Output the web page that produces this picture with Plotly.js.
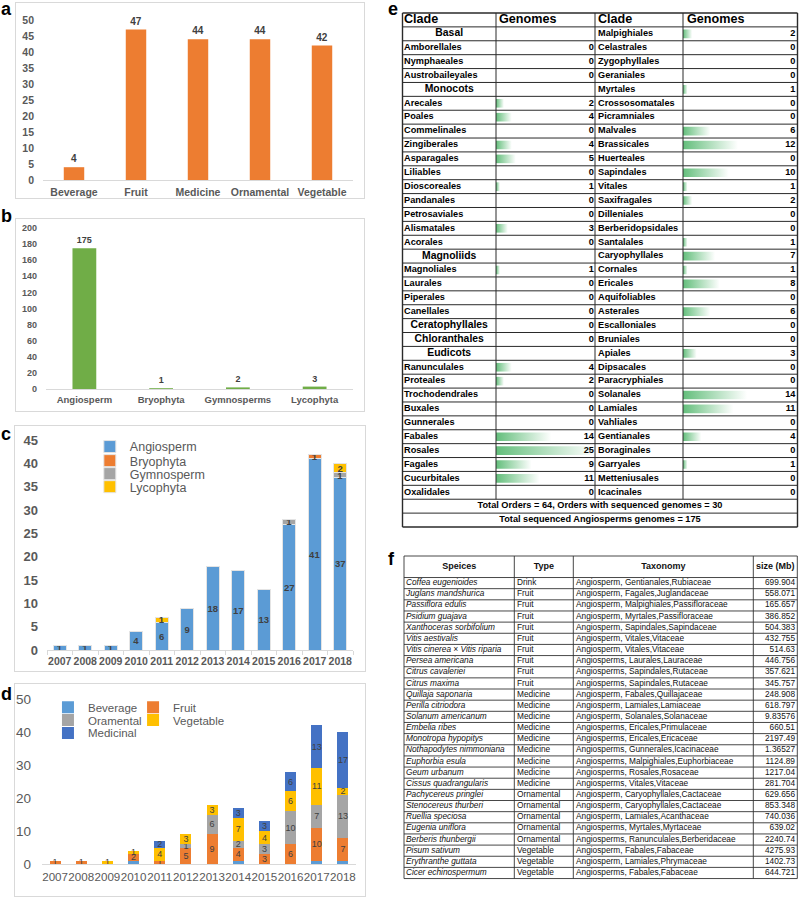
<!DOCTYPE html>
<html><head><meta charset="utf-8">
<script src="https://cdn.plot.ly/plotly-3.0.1.min.js"></script>
<style>
body{margin:0;background:#fff;width:800px;height:898px;position:relative;overflow:hidden;font-family:"Liberation Sans",Arial,sans-serif;}
.frame{position:absolute;border:1px solid #D9D9D9;box-sizing:border-box;}
.plot{position:absolute;}
.lab{position:absolute;font-weight:bold;font-size:18px;line-height:18px;color:#000;}
</style></head><body>
<div class="frame" style="left:15px;top:2px;width:350px;height:197px"></div>
<div class="frame" style="left:15px;top:218px;width:350px;height:194px"></div>
<div class="frame" style="left:14px;top:425px;width:352px;height:247px"></div>
<div class="frame" style="left:14px;top:683px;width:352px;height:214px"></div>
<div id="pa" class="plot" style="left:15px;top:2px;width:350px;height:197px"></div>
<div id="pb" class="plot" style="left:15px;top:218px;width:350px;height:194px"></div>
<div id="pc" class="plot" style="left:14px;top:395px;width:352px;height:277px"></div>
<div id="pd" class="plot" style="left:14px;top:683px;width:352px;height:214px"></div>
<div id="pe" class="plot" style="left:401px;top:12px;width:398px;height:516px"></div>
<div id="pf" class="plot" style="left:402px;top:555px;width:397px;height:325px"></div>
<div class="lab" style="left:1px;top:0px">a</div>
<div class="lab" style="left:1px;top:207px">b</div>
<div class="lab" style="left:1px;top:425px">c</div>
<div class="lab" style="left:1px;top:685px">d</div>
<div class="lab" style="left:388px;top:0px">e</div>
<div class="lab" style="left:388px;top:550px">f</div>
<script>
// ---------------- DATA ----------------
const useCats = ['Beverage','Fruit','Medicine','Ornamental','Vegetable'];
const useCounts = [4,47,44,44,42];

const groupCats = ['Angiosperm','Bryophyta','Gymnosperms','Lycophyta'];
const groupCounts = [175,1,2,3];

const years = ['2007','2008','2009','2010','2011','2012','2013','2014','2015','2016','2017','2018'];
const angiosperm = [1,1,1,4,6,9,18,17,13,27,41,37];
const bryophyta  = [0,0,0,0,0,0,0,0,0,0,1,0];
const gymnosperm = [0,0,0,0,0,0,0,0,0,1,0,1];
const lycophyta  = [0,0,0,0,1,0,0,0,0,0,0,2];

const useBeverage   = [0,0,0,1,0,0,0,1,0,0,1,1];
const useFruit      = [1,1,0,2,1,5,9,4,3,6,10,7];
const useOrnamental = [0,0,0,0,0,1,6,2,3,10,7,13];
const useVegetable  = [0,0,1,1,4,3,3,7,4,6,11,2];
const useMedicinal  = [0,0,0,0,2,0,0,3,3,6,13,17];

const cladeLeft = ['Basal','Amborellales','Nymphaeales','Austrobaileyales','Monocots','Arecales','Poales','Commelinales','Zingiberales','Asparagales','Liliables','Dioscoreales','Pandanales','Petrosaviales','Alismatales','Acorales','Magnoliids','Magnoliales','Laurales','Piperales','Canellales','Ceratophyllales','Chloranthales','Eudicots','Ranunculales','Proteales','Trochodendrales','Buxales','Gunnerales','Fabales','Rosales','Fagales','Cucurbitales','Oxalidales'];
const genomesLeft = [null,0,0,0,null,2,4,0,4,5,0,1,0,0,3,0,null,1,0,0,0,0,0,null,4,2,0,0,0,14,25,9,11,0];
const centeredLeft = ['Basal','Monocots','Magnoliids','Ceratophyllales','Chloranthales','Eudicots'];
const cladeRight = ['Malpighiales','Celastrales','Zygophyllales','Geraniales','Myrtales','Crossosomatales','Picramniales','Malvales','Brassicales','Huerteales','Sapindales','Vitales','Saxifragales','Dilleniales','Berberidopsidales','Santalales','Caryophyllales','Cornales','Ericales','Aquifoliables','Asterales','Escalloniales','Bruniales','Apiales','Dipsacales','Paracryphiales','Solanales','Lamiales','Vahliales','Gentianales','Boraginales','Garryales','Metteniusales','Icacinales'];
const genomesRight = [2,0,0,0,1,0,0,6,12,0,10,1,2,0,0,1,7,1,8,0,6,0,0,3,0,0,14,11,0,4,0,1,0,0];
const eHeader = ['Clade','Genomes','Clade','Genomes'];
const eFooter = ['Total Orders = 64, Orders with sequenced genomes = 30','Total sequenced Angiosperms genomes = 175'];

const fHeader = ['Speices','Type','Taxonomy','size (Mb)'];
const fSpecies = ['Coffea eugenioides','Juglans mandshurica','Passiflora edulis','Psidium guajava','Xanthoceras sorbifolium','Vitis aestivalis','Vitis cinerea × Vitis riparia','Persea americana','Citrus cavaleriei','Citrus maxima','Quillaja saponaria','Perilla citriodora','Solanum americanum','Embelia ribes','Monotropa hypopitys','Nothapodytes nimmoniana','Euphorbia esula','Geum urbanum','Cissus quadrangularis','Pachycereus pringlei','Stenocereus thurberi','Ruellia speciosa','Eugenia uniflora','Berberis thunbergii','Pisum sativum','Erythranthe guttata','Cicer echinospermum'];
const fType = ['Drink','Fruit','Fruit','Fruit','Fruit','Fruit','Fruit','Fruit','Fruit','Fruit','Medicine','Medicine','Medicine','Medicine','Medicine','Medicine','Medicine','Medicine','Medicine','Ornamental','Ornamental','Ornamental','Ornamental','Ornamental','Vegetable','Vegetable','Vegetable'];
const fTaxonomy = ['Angiosperm, Gentianales,Rubiaceae','Angiosperm, Fagales,Juglandaceae','Angiosperm, Malpighiales,Passifloraceae','Angiosperm, Myrtales,Passifloraceae','Angiosperm, Sapindales,Sapindaceae','Angiosperm, Vitales,Vitaceae','Angiosperm, Vitales,Vitaceae','Angiosperms, Laurales,Lauraceae','Angiosperms, Sapindales,Rutaceae','Angiosperms, Sapindales,Rutaceae','Angiosperm, Fabales,Quillajaceae','Angiosperm, Lamiales,Lamiaceae','Angiosperm, Solanales,Solanaceae','Angiosperms, Ericales,Primulaceae','Angiosperms, Ericales,Ericaceae','Angiosperms, Gunnerales,Icacinaceae','Angiosperms, Malpighiales,Euphorbiaceae','Angiosperms, Rosales,Rosaceae','Angiosperms, Vitales,Vitaceae','Angiosperm, Caryophyllales,Cactaceae','Angiosperm, Caryophyllales,Cactaceae','Angiosperm, Lamiales,Acanthaceae','Angiosperms, Myrtales,Myrtaceae','Angiosperms, Ranunculales,Berberidaceae','Angiosperm, Fabales,Fabaceae','Angiosperm, Lamiales,Phrymaceae','Angiosperms, Fabales,Fabaceae'];
const fSize = ['699.904','558.071','165.657','386.852','504.383','432.755','514.63','446.756','357.621','345.757','248.908','618.797','9.83576','660.51','2197.49','1.36527','1124.89','1217.04','281.704','629.656','853.348','740.036','639.02','2240.74','4275.93','1402.73','644.721'];

// ---------------- STYLE ----------------
const FONT = '"Liberation Sans", Arial, Helvetica, sans-serif';
const GRAY = '#595959', DARK = '#404040';
const cfg = {staticPlot:true, displayModeBar:false};
const base = {paper_bgcolor:'rgba(0,0,0,0)', plot_bgcolor:'rgba(0,0,0,0)', font:{family:FONT}};
const lbl = a => a.map(v => v ? String(v) : '');

// ---------------- PANEL A ----------------
Plotly.newPlot('pa', [{
  type:'bar', x:useCats, y:useCounts, marker:{color:'#ED7D31'},
  text:lbl(useCounts), textposition:'outside', cliponaxis:false,
  textfont:{family:FONT,size:10,color:DARK,weight:'bold'}, hoverinfo:'skip'
}], Object.assign({}, base, {
  width:350, height:197, margin:{l:28,r:12,t:18,b:19,pad:0}, bargap:0.67, showlegend:false,
  xaxis:{showline:true, linecolor:'#D9D9D9', ticks:'', ticklabelstandoff:2, tickangle:0,
         tickfont:{family:FONT,size:10.5,color:GRAY,weight:'bold'}},
  yaxis:{range:[0,50], dtick:5, showgrid:false, zeroline:false, showline:false, ticks:'',
         ticklabelstandoff:8, tickfont:{family:FONT,size:10.5,color:GRAY,weight:'bold'}}
}), cfg);

// ---------------- PANEL B ----------------
Plotly.newPlot('pb', [{
  type:'bar', x:groupCats, y:groupCounts, marker:{color:'#70AD47'},
  text:lbl(groupCounts), textposition:'outside', cliponaxis:false,
  textfont:{family:FONT,size:9,color:DARK,weight:'bold'}, hoverinfo:'skip'
}], Object.assign({}, base, {
  width:350, height:194, margin:{l:30.5,r:11.5,t:10,b:23,pad:0}, bargap:0.69, showlegend:false,
  xaxis:{showline:true, linecolor:'#D9D9D9', ticks:'', ticklabelstandoff:2, tickangle:0,
         tickfont:{family:FONT,size:9.5,color:GRAY,weight:'bold'}},
  yaxis:{range:[0,200], dtick:20, showgrid:false, zeroline:false, showline:false, ticks:'',
         ticklabelstandoff:8, tickfont:{family:FONT,size:9,color:GRAY,weight:'bold'}}
}), cfg);

// ---------------- PANEL C ----------------
const cSeries = [
  ['Angiosperm', angiosperm, '#5B9BD5', 'legend'],
  ['Bryophyta', bryophyta, '#ED7D31', 'legend2'],
  ['Gymnosperm', gymnosperm, '#A5A5A5', 'legend3'],
  ['Lycophyta', lycophyta, '#FFC000', 'legend4']
];
const cTraces = cSeries.map(s => ({
  type:'bar', name:s[0], x:years, y:s[1], legend:s[3],
  marker:{color:s[2], line:{color:'#E4E4E4', width:1}},
  text:lbl(s[1]), textposition:'inside', insidetextanchor:'middle', constraintext:'none', textangle:0,
  textfont:{family:FONT,size:9.5,color:DARK,weight:'bold'}, cliponaxis:false, hoverinfo:'skip'
}));
function leg(x, y, size){
  return {x:x, y:y, xanchor:'left', yanchor:'middle', bgcolor:'rgba(0,0,0,0)', borderwidth:0,
          font:{family:FONT,size:size,color:GRAY}, itemwidth:30};
}
Plotly.newPlot('pc', cTraces, Object.assign({}, base, {
  width:352, height:277, margin:{l:33.3,r:13.3,t:45,b:22,pad:0}, barmode:'stack', bargap:0.49,
  showlegend:true,
  legend:leg(0.14,0.967,12.5), legend2:leg(0.14,0.900,12.5), legend3:leg(0.14,0.838,12.5), legend4:leg(0.14,0.776,12.5),
  xaxis:{type:'category', showline:true, linecolor:'#D9D9D9', ticks:'outside', tickson:'boundaries',
         ticklen:4, tickcolor:'#D9D9D9', ticklabelstandoff:1, tickangle:0,
         tickfont:{family:FONT,size:10.5,color:GRAY,weight:'bold'}},
  yaxis:{range:[0,45], dtick:5, showgrid:false, zeroline:false, showline:false, ticks:'',
         ticklabelstandoff:8, tickfont:{family:FONT,size:13,color:GRAY,weight:'bold'}}
}), cfg);

// ---------------- PANEL D ----------------
const dSeries = [
  ['Beverage', useBeverage, '#5B9BD5', 'legend', false],
  ['Fruit', useFruit, '#ED7D31', 'legend2', true],
  ['Oramental', useOrnamental, '#A5A5A5', 'legend3', true],
  ['Vegetable', useVegetable, '#FFC000', 'legend4', true],
  ['Medicinal', useMedicinal, '#4472C4', 'legend5', true]
];
const dTraces = dSeries.map(s => ({
  type:'bar', name:s[0], x:years, y:s[1], legend:s[3], marker:{color:s[2]},
  text: s[4] ? lbl(s[1]) : s[1].map(() => ''), textposition:'inside', insidetextanchor:'middle',
  constraintext:'none', textangle:0,
  textfont:{family:FONT,size:9,color:DARK}, cliponaxis:false, hoverinfo:'skip'
}));
Plotly.newPlot('pd', dTraces, Object.assign({}, base, {
  width:352, height:214, margin:{l:27.9,r:9.9,t:14,b:33,pad:0}, barmode:'stack', bargap:0.58,
  showlegend:true,
  legend:leg(0.019,0.950,11.5), legend2:leg(0.290,0.950,11.5), legend3:leg(0.019,0.872,11.5),
  legend4:leg(0.290,0.872,11.5), legend5:leg(0.019,0.794,11.5),
  xaxis:{type:'category', showline:true, linecolor:'#D9D9D9', ticks:'', ticklabelstandoff:2, tickangle:0,
         tickfont:{family:FONT,size:11.6,color:GRAY}},
  yaxis:{range:[0,50], dtick:10, showgrid:false, zeroline:false, showline:false, ticks:'',
         ticklabelstandoff:10, tickfont:{family:FONT,size:13.5,color:GRAY}}
}), cfg);

// ---------------- PANEL E ----------------
(function(){
  const rows = cladeLeft.map((_, i) => i);
  const bold = (size) => ({family:FONT, size:size, color:'#000', weight:'bold'});
  const isC = cladeLeft.map(n => centeredLeft.indexOf(n) >= 0);
  const tr = [];
  const idxN = rows.filter(i => !isC[i]), idxC = rows.filter(i => isC[i]);
  tr.push({type:'scatter', mode:'text', x:idxN.map(() => 2), y:idxN, text:idxN.map(i => cladeLeft[i]),
           textposition:'middle right', textfont:bold(9.2), cliponaxis:false, hoverinfo:'skip'});
  tr.push({type:'scatter', mode:'text', x:idxC.map(() => 47.2), y:idxC, text:idxC.map(i => cladeLeft[i]),
           textposition:'middle center', textfont:bold(10.4), cliponaxis:false, hoverinfo:'skip'});
  tr.push({type:'scatter', mode:'text', x:rows.map(() => 196), y:rows, text:cladeRight,
           textposition:'middle right', textfont:bold(9.2), cliponaxis:false, hoverinfo:'skip'});
  tr.push({type:'scatter', mode:'text', x:[2, 97, 196, 285], y:eHeader.map(() => -1), text:eHeader,
           textposition:'middle right', textfont:bold(12.6), cliponaxis:false, hoverinfo:'skip'});
  tr.push({type:'scatter', mode:'text', x:eFooter.map(() => 198), y:eFooter.map((_, i) => cladeLeft.length + i),
           text:eFooter, textposition:'middle center', textfont:bold(9.2), cliponaxis:false, hoverinfo:'skip'});
  // data bars (drawn in their own cell subplots)
  tr.push({type:'bar', orientation:'h', xaxis:'x2', yaxis:'y', y:rows, x:genomesLeft.map(v => v || 0),
           width:0.62, marker:{color:'#63BE7B', line:{width:0}}, hoverinfo:'skip'});
  tr.push({type:'bar', orientation:'h', xaxis:'x3', yaxis:'y', y:rows, x:genomesRight,
           width:0.62, marker:{color:'#63BE7B', line:{width:0}}, hoverinfo:'skip'});
  // values on top of bars, same cell subplots
  tr.push({type:'scatter', mode:'text', xaxis:'x2', yaxis:'y', x:rows.map(() => 24.75), y:rows,
           text:genomesLeft.map(v => v === null ? '' : String(v)),
           textposition:'middle left', textfont:bold(9.2), cliponaxis:false, hoverinfo:'skip'});
  tr.push({type:'scatter', mode:'text', xaxis:'x3', yaxis:'y', x:rows.map(() => 24.55), y:rows,
           text:genomesRight.map(String),
           textposition:'middle left', textfont:bold(9.2), cliponaxis:false, hoverinfo:'skip'});

  const shapes = [];
  const LC = '#2a2a2a';
  const nR = cladeLeft.length;
  const yTop = -1.5, yData = nR - 0.5, yBot = nR + eFooter.length - 0.5;
  for (let k = 0; k <= nR + eFooter.length + 1; k++) {
    const yy = -1.5 + k;
    const outer = (k === 0 || yy === yBot);
    shapes.push({type:'line', xref:'x', yref:'y', x0:0.5, x1:395.5, y0:yy, y1:yy,
                 line:{color:LC, width: outer ? 1.4 : 1}});
  }
  [0.5, 94, 193, 281, 395.5].forEach((xx, j) => {
    const outer = (j === 0 || j === 4);
    shapes.push({type:'line', xref:'x', yref:'y', x0:xx, x1:xx, y0:yTop, y1: outer ? yBot : yData,
                 line:{color:LC, width: outer ? 1.4 : 1}});
  });

  Plotly.newPlot('pe', tr, Object.assign({}, base, {
    width:398, height:516, margin:{l:0,r:0,t:0,b:0,pad:0}, showlegend:false, shapes:shapes,
    xaxis:{range:[-1, 397], visible:false, fixedrange:true},
    xaxis2:{domain:[0.2387, 0.4874], range:[0, 25], visible:false, anchor:'y'},
    xaxis3:{domain:[0.7085, 0.9962], range:[0, 25], visible:false, anchor:'y'},
    yaxis:{range:[35.572, -1.572], visible:false}
  }), cfg).then(function(gd){
    const svg = gd.querySelector('svg.main-svg');
    const NS = 'http://www.w3.org/2000/svg';
    let defs = svg.querySelector('defs');
    if (!defs) { defs = document.createElementNS(NS, 'defs'); svg.insertBefore(defs, svg.firstChild); }
    const g = document.createElementNS(NS, 'linearGradient');
    g.setAttribute('id', 'databarGrad');
    g.setAttribute('x1', '0'); g.setAttribute('x2', '1'); g.setAttribute('y1', '0'); g.setAttribute('y2', '0');
    [['0', '#63BE7B'], ['1', '#FFFFFF']].forEach(s => {
      const st = document.createElementNS(NS, 'stop');
      st.setAttribute('offset', s[0]); st.setAttribute('stop-color', s[1]);
      g.appendChild(st);
    });
    defs.appendChild(g);
    gd.querySelectorAll('.barlayer .point path').forEach(p => { p.style.fill = 'url(#databarGrad)'; });
  });
})();

// ---------------- PANEL F ----------------
(function(){
  const rows = fSpecies.map((_, i) => i);
  const body = {family:FONT, size:8.3, color:'#111'};
  const tr = [];
  tr.push({type:'scatter', mode:'text', x:rows.map(() => 4), y:rows, text:fSpecies,
           textposition:'middle right', textfont:Object.assign({style:'italic'}, body), cliponaxis:false, hoverinfo:'skip'});
  tr.push({type:'scatter', mode:'text', x:rows.map(() => 115), y:rows, text:fType,
           textposition:'middle right', textfont:body, cliponaxis:false, hoverinfo:'skip'});
  tr.push({type:'scatter', mode:'text', x:rows.map(() => 174), y:rows, text:fTaxonomy,
           textposition:'middle right', textfont:body, cliponaxis:false, hoverinfo:'skip'});
  tr.push({type:'scatter', mode:'text', x:rows.map(() => 393), y:rows, text:fSize,
           textposition:'middle left', textfont:body, cliponaxis:false, hoverinfo:'skip'});
  tr.push({type:'scatter', mode:'text', x:[57.2, 141.8, 261.3, 373.3], y:fHeader.map(() => -1.47), text:fHeader,
           textposition:'middle center', textfont:{family:FONT, size:9, color:'#111', weight:'bold'},
           cliponaxis:false, hoverinfo:'skip'});
  const shapes = [];
  const LC = '#333';
  const yTop = -2.43, yBot = fSpecies.length - 0.5;
  shapes.push({type:'line', xref:'x', yref:'y', x0:2, x1:395.3, y0:yTop, y1:yTop, line:{color:LC, width:0.9}});
  for (let k = 0; k <= fSpecies.length; k++) {
    const yy = -0.5 + k;
    shapes.push({type:'line', xref:'x', yref:'y', x0:2, x1:395.3, y0:yy, y1:yy, line:{color:LC, width:0.9}});
  }
  [2, 112.3, 171.3, 351.3, 395.3].forEach(xx => {
    shapes.push({type:'line', xref:'x', yref:'y', x0:xx, x1:xx, y0:yTop, y1:yBot, line:{color:LC, width:0.9}});
  });
  Plotly.newPlot('pf', tr, Object.assign({}, base, {
    width:397, height:325, margin:{l:0,r:0,t:0,b:0,pad:0}, showlegend:false, shapes:shapes,
    xaxis:{range:[0, 397], visible:false},
    yaxis:{range:[26.63, -2.52], visible:false}
  }), cfg);
})();
</script>
</body></html>
